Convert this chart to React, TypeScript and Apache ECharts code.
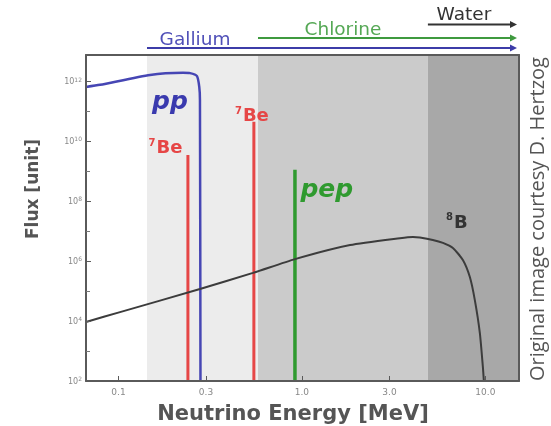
import React, { useEffect, useRef } from 'react';
import * as echarts from 'echarts';

const lg = (v: number) => Math.log10(v);

// Axis ticks
const xTickLabels = ['0.1', '0.3', '1.0', '3.0', '10.0'];
const xTickValues = [0.1, 0.3, 1.0, 3.0, 10.0];
const energyMin = 0.0665;
const energyMax = 15.25;
const fluxExpMin = 2;
const fluxExpMax = 12.885;
const fluxExpInterval = 2;

// Detector sensitivity bands (MeV)
const bandStart = [0.143, 0.576, 4.86];
const bandEnd = [0.576, 4.86, 15.25];
const bandColors = ['#ececec', '#cbcbcb', '#a8a8a8'];

// Detector thresholds (MeV)
const thresholdNames = ['Gallium', 'Chlorine', 'Water'];
const thresholdEnergy = [0.143, 0.576, 4.86];

// pp continuum
const ppEnergy = [0.0665, 0.0793, 0.1485, 0.2246, 0.2453, 0.2678, 0.2756, 0.278, 0.2798];
const ppLogFlux = [11.82, 11.89, 12.22, 12.29, 12.28, 12.18, 11.82, 11.38, 2.0];

// 8B continuum
const b8Energy = [0.0665, 0.1019, 0.278, 0.541, 0.916, 1.83, 3.42, 4.03, 4.395, 5.17, 5.87, 6.65, 7.54, 8.23, 8.76, 9.33, 9.69, 9.81];
const b8LogFlux = [3.97, 4.3, 5.07, 5.61, 6.07, 6.54, 6.77, 6.81, 6.79, 6.71, 6.61, 6.44, 6.04, 5.47, 4.7, 3.6, 2.47, 2.0];

// Mono-energetic lines
const lineNames = ['7Be', '7Be', 'pep'];
const lineEnergy = [0.239, 0.547, 0.916];
const lineLogFlux = [9.55, 10.66, 9.05];
const lineColors = ['#e64646', '#e64646', '#2f9a2f'];

const FONT = '"DejaVu Sans", Verdana, sans-serif';

export default function App() {
  const ref = useRef<HTMLDivElement>(null);

  useEffect(() => {
    if (!ref.current) return;
    const chart = echarts.init(ref.current, undefined, { renderer: 'svg' });

    const xMin = lg(energyMin);
    const xMax = lg(energyMax);

    const beRich = {
      s: { fontSize: 10, fontFamily: FONT, fontWeight: 'bold', color: '#e64646', padding: [0, 1, 9, 0] },
      m: { fontSize: 18, fontFamily: FONT, fontWeight: 'bold', color: '#e64646' },
    };

    const labelData = [
      {
        value: [lg(ppEnergy[3]), ppLogFlux[3]],
        label: {
          show: true, position: 'bottom', offset: [-13, 10], formatter: 'pp',
          fontFamily: FONT, fontSize: 25, fontWeight: 'bold', fontStyle: 'italic', color: '#3a3aae',
        },
      },
      {
        value: [lg(lineEnergy[0]), lineLogFlux[0]],
        label: { show: true, position: 'left', offset: [0, -8], formatter: '{s|7}{m|Be}', rich: beRich },
      },
      {
        value: [lg(lineEnergy[1]), lineLogFlux[1]],
        label: { show: true, position: 'top', offset: [-2, 8], formatter: '{s|7}{m|Be}', rich: beRich },
      },
      {
        value: [lg(lineEnergy[2]), lineLogFlux[2]],
        label: {
          show: true, position: 'right', offset: [0, 19], formatter: 'pep',
          fontFamily: FONT, fontSize: 25, fontWeight: 'bold', fontStyle: 'italic', color: '#2f9a2f',
        },
      },
      {
        value: [lg(b8Energy[11]), b8LogFlux[11]],
        label: {
          show: true, position: 'top', offset: [4, -12], formatter: '{s|8}{m|B}',
          rich: {
            s: { fontSize: 10, fontFamily: FONT, fontWeight: 'bold', color: '#333', padding: [0, 1, 9, 0] },
            m: { fontSize: 18, fontFamily: FONT, fontWeight: 'bold', color: '#333' },
          },
        },
      },
    ];

    const lineSeries = lineEnergy.map((e, i) => ({
      type: 'line',
      name: lineNames[i],
      data: [[lg(e), fluxExpMin], [lg(e), lineLogFlux[i]]],
      showSymbol: false,
      lineStyle: { color: lineColors[i], width: i === 2 ? 3.5 : 3 },
      z: 3,
      silent: true,
    }));

    const borderLine = { show: true, onZero: false, lineStyle: { color: '#5a5a5a', width: 2 } };

    const option: any = {
      animation: false,
      grid: { left: 86, right: 32, top: 55, bottom: 45 },
      xAxis: [
        {
          type: 'value',
          min: xMin,
          max: xMax,
          z: 10,
          axisLine: borderLine,
          axisTick: {
            show: true, inside: true, length: 5,
            customValues: xTickValues.map(lg),
            lineStyle: { color: '#5a5a5a' },
          },
          axisLabel: {
            customValues: xTickValues.map(lg),
            formatter: (v: number) => {
              const i = xTickValues.findIndex((t) => Math.abs(lg(t) - v) < 1e-6);
              return i >= 0 ? xTickLabels[i] : '';
            },
            fontFamily: FONT, fontSize: 9, color: '#888', margin: 6,
          },
          splitLine: { show: false },
        },
        {
          type: 'value', position: 'top', min: xMin, max: xMax, z: 10,
          axisLine: borderLine,
          axisTick: { show: false }, axisLabel: { show: false }, splitLine: { show: false },
        },
      ],
      yAxis: [
        {
          type: 'value',
          min: fluxExpMin,
          max: fluxExpMax,
          interval: fluxExpInterval,
          z: 10,
          axisLine: borderLine,
          axisTick: { show: true, inside: true, length: 5, lineStyle: { color: '#5a5a5a' } },
          minorTick: { show: true, splitNumber: 2, length: 4, lineStyle: { color: '#777' } },
          axisLabel: {
            formatter: (v: number) => (Math.abs(v - Math.round(v)) < 1e-6 ? `{b|10}{s|${Math.round(v)}}` : ''),
            rich: {
              b: { fontFamily: FONT, fontSize: 8, color: '#888' },
              s: { fontFamily: FONT, fontSize: 6, color: '#888', padding: [0, 0, 5, 0] },
            },
            margin: 4,
          },
          splitLine: { show: false },
        },
        {
          type: 'value', position: 'right', min: fluxExpMin, max: fluxExpMax, z: 10,
          axisLine: borderLine,
          axisTick: { show: false }, axisLabel: { show: false }, splitLine: { show: false },
        },
      ],
      series: [
        {
          type: 'line',
          name: '8B',
          data: b8Energy.map((e, i) => [lg(e), b8LogFlux[i]]),
          showSymbol: false,
          smooth: 0.2,
          lineStyle: { color: '#3c3c3c', width: 2 },
          z: 4,
          silent: true,
          markArea: {
            silent: true,
            data: bandStart.map((s, i) => [
              { xAxis: lg(s), itemStyle: { color: bandColors[i] } },
              { xAxis: lg(bandEnd[i]) },
            ]),
          },
        },
        {
          type: 'line',
          name: 'pp',
          data: ppEnergy.map((e, i) => [lg(e), ppLogFlux[i]]),
          showSymbol: false,
          smooth: 0.2,
          lineStyle: { color: '#4646b4', width: 2.5 },
          z: 3,
          silent: true,
        },
        ...lineSeries,
        {
          type: 'scatter',
          name: 'labels',
          data: labelData,
          symbolSize: 1,
          itemStyle: { color: 'rgba(0,0,0,0)', opacity: 1 },
          z: 6,
          silent: true,
        },
      ],
      graphic: [
        {
          type: 'text', x: 32, y: 189, rotation: Math.PI / 2,
          style: { text: 'Flux [unit]', align: 'center', verticalAlign: 'middle', fontFamily: FONT, fontWeight: 'bold', fontSize: 17, fill: '#555' },
        },
        {
          type: 'text', x: 293, y: 413,
          style: { text: 'Neutrino Energy [MeV]', align: 'center', verticalAlign: 'middle', fontFamily: FONT, fontWeight: 'bold', fontSize: 21, fill: '#555' },
        },
        {
          type: 'text', x: 536, y: 219, rotation: Math.PI / 2,
          style: { text: 'Original image courtesy D. Hertzog', align: 'center', verticalAlign: 'middle', fontFamily: '"Open Sans", sans-serif', fontSize: 20, fill: '#555' },
        },
      ],
    };

    chart.setOption(option);

    // threshold arrows above the plot
    const tipX = 517;
    const arrowY = [48, 38, 24.5];
    const arrowColors = ['#3c3ca8', '#3f9a3f', '#333333'];
    const textColors = ['#5050b8', '#55a855', '#333333'];
    const textOffsetX = [48, 85, 36];
    const textY = [38.5, 28, 13];
    const extra: any[] = [];
    thresholdEnergy.forEach((e, i) => {
      const sx = chart.convertToPixel({ xAxisIndex: 0 }, lg(e)) as number;
      const y = arrowY[i];
      extra.push({
        type: 'line',
        shape: { x1: sx, y1: y, x2: tipX - 5, y2: y },
        style: { stroke: arrowColors[i], lineWidth: 2 },
      });
      extra.push({
        type: 'polygon',
        shape: { points: [[tipX - 7, y - 3.5], [tipX, y], [tipX - 7, y + 3.5]] },
        style: { fill: arrowColors[i] },
      });
      extra.push({
        type: 'text', x: sx + textOffsetX[i], y: textY[i],
        style: { text: thresholdNames[i], align: 'center', verticalAlign: 'middle', fontFamily: FONT, fontSize: 18.5, fill: textColors[i] },
      });
    });
    chart.setOption({ graphic: [...option.graphic, ...extra] });

    return () => chart.dispose();
  }, []);

  return <div ref={ref} style={{ position: 'fixed', left: 0, top: 0, width: 551, height: 426 }} />;
}
